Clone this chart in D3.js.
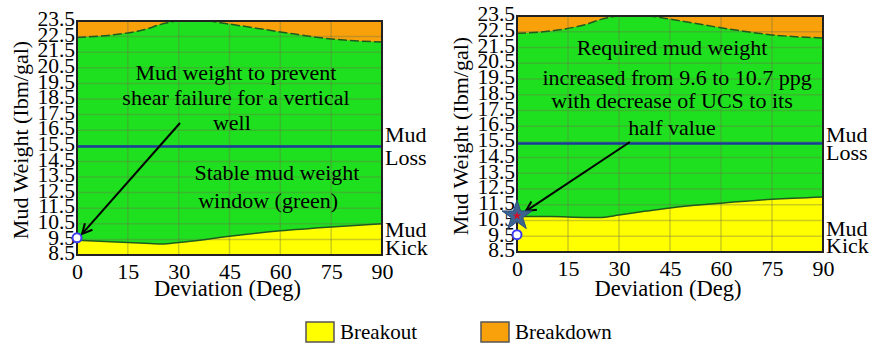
<!DOCTYPE html>
<html>
<head>
<meta charset="utf-8">
<script src="https://cdn.jsdelivr.net/npm/d3@7"></script>
<style>
  body { margin: 0; background: #fff; }
  text { font-family: "Liberation Serif", "Times New Roman", Tinos, serif; }
</style>
</head>
<body>
<svg id="mwplot" width="875" height="348"></svg>
<script>
"use strict";

// Tick labels
const devTicks = [0, 15, 30, 45, 60, 75, 90];
const mwTicks = [8.5, 9.5, 10.5, 11.5, 12.5, 13.5, 14.5, 15.5, 16.5, 17.5, 18.5, 19.5, 20.5, 21.5, 22.5, 23.5];

// Deviation angles where the boundaries were read
const deviation = [0, 10, 20, 25, 30, 38, 45, 60, 75, 90];

// Left panel (original UCS)
const breakoutA  = [9.45, 9.35, 9.25, 9.2, 9.3, 9.5, 9.7, 10.05, 10.3, 10.5];
const breakdownA = [22.45, 22.6, 22.95, 23.3, 23.5, 23.5, 23.3, 22.8, 22.35, 22.15];
const mudLossA = 15.45;

// Right panel (UCS halved)
const breakoutB  = [10.75, 10.75, 10.7, 10.7, 10.85, 11.1, 11.3, 11.6, 11.85, 12.0];
const breakdownB = [22.4, 22.55, 22.95, 23.3, 23.5, 23.5, 23.3, 22.75, 22.3, 22.1];
const mudLossB = 15.4;

// Marked mud weights at vertical well
const vertMW = 9.6;
const reqMW = 10.8;

const legendItems = ["Breakout", "Breakdown"];

const colors = { green: "#1fe01f", yellow: "#ffff00", orange: "#f8a10a", blue: "#1c3a9e" };
const FONT = "Liberation Serif";

const svg = d3.select("#mwplot");

// text with the serif face set right away
const addText = (parent, size) => parent.append("text")
    .attr("font-family", FONT)
    .attr("font-size", size);

const defs = svg.append("defs");
defs.append("marker")
    .attr("id", "arrow")
    .attr("viewBox", "0 0 12 12")
    .attr("refX", 11).attr("refY", 6)
    .attr("markerWidth", 12).attr("markerHeight", 12)
    .attr("markerUnits", "userSpaceOnUse")
    .attr("orient", "auto")
    .append("path")
    .attr("d", "M1,1 L11,6 L1,11")
    .attr("fill", "none")
    .attr("stroke", "#000")
    .attr("stroke-width", 2);

const drawPanel = (p) => {
    const x = d3.scaleLinear().domain([0, 90]).range([p.left, p.right]);
    const y = d3.scaleLinear().domain([8.5, 23.5]).range([p.bottom, p.top]);
    const g = svg.append("g");

    const pts = deviation.map((d, i) => ({ d: d, lo: p.breakout[i], hi: p.breakdown[i] }));

    // stable window background
    g.append("rect")
        .attr("x", x(0)).attr("y", y(23.5))
        .attr("width", x(90) - x(0)).attr("height", y(8.5) - y(23.5))
        .attr("fill", colors.green);

    g.append("path").datum(pts)
        .attr("d", d3.area().curve(d3.curveMonotoneX)
            .x(d => x(d.d)).y0(y(8.5)).y1(d => y(d.lo)))
        .attr("fill", colors.yellow);

    g.append("path").datum(pts)
        .attr("d", d3.area().curve(d3.curveMonotoneX)
            .x(d => x(d.d)).y0(y(23.5)).y1(d => y(d.hi)))
        .attr("fill", colors.orange);

    // grid
    g.selectAll(".hgrid").data(mwTicks.slice(1, -1)).enter().append("line")
        .attr("x1", x(0)).attr("x2", x(90))
        .attr("y1", d => y(d)).attr("y2", d => y(d))
        .attr("stroke", "#6d6d4a").attr("stroke-opacity", 0.35).attr("stroke-width", 1.5);
    g.selectAll(".vgrid").data(devTicks.slice(1, -1)).enter().append("line")
        .attr("y1", y(8.5)).attr("y2", y(23.5))
        .attr("x1", d => x(d)).attr("x2", d => x(d))
        .attr("stroke", "#6d6d4a").attr("stroke-opacity", 0.35).attr("stroke-width", 1.5);

    // boundaries
    g.append("path").datum(pts)
        .attr("d", d3.line().curve(d3.curveMonotoneX).x(d => x(d.d)).y(d => y(d.lo)))
        .attr("fill", "none").attr("stroke", "#1f5a1f").attr("stroke-width", 1.5);
    g.append("path").datum(pts)
        .attr("d", d3.line().curve(d3.curveMonotoneX).x(d => x(d.d)).y(d => y(d.hi)))
        .attr("fill", "none").attr("stroke", "#1f5a1f").attr("stroke-width", 1.5)
        .attr("stroke-dasharray", "9,3");

    // mud loss line
    g.append("line")
        .attr("x1", x(0)).attr("x2", x(90))
        .attr("y1", y(p.mudLoss)).attr("y2", y(p.mudLoss))
        .attr("stroke", colors.blue).attr("stroke-width", 2.5);

    // frame
    g.append("rect")
        .attr("x", x(0)).attr("y", y(23.5))
        .attr("width", x(90) - x(0)).attr("height", y(8.5) - y(23.5))
        .attr("fill", "none").attr("stroke", "#222").attr("stroke-width", 2);

    // axes
    const yAxis = g.append("g")
        .attr("transform", `translate(${p.left},0)`)
        .call(d3.axisLeft(y).tickValues(mwTicks).tickSize(0).tickPadding(2).tickFormat(d3.format(".1f")));
    yAxis.attr("font-family", FONT);
    yAxis.select(".domain").remove();
    yAxis.selectAll("text")
        .attr("font-family", FONT)
        .attr("font-size", 21.5)
        .attr("dy", "0.22em")
        .attr("fill", "#000");

    const xAxis = g.append("g")
        .attr("transform", `translate(0,${p.bottom})`)
        .call(d3.axisBottom(x).tickValues(devTicks).tickSize(0).tickPadding(8));
    xAxis.attr("font-family", FONT);
    xAxis.select(".domain").remove();
    xAxis.selectAll("text")
        .attr("font-family", FONT)
        .attr("font-size", 22)
        .attr("fill", "#000");

    addText(g, 22.5)
        .attr("x", (p.left + p.right) / 2 - 2)
        .attr("y", 296)
        .attr("text-anchor", "middle")
        .text("Deviation (Deg)");

    addText(g, 22)
        .attr("transform", `translate(${p.titleX},${(p.top + p.bottom) / 2 + 2}) rotate(-90)`)
        .attr("text-anchor", "middle")
        .text("Mud Weight (Ibm/gal)");

    // side labels
    const side = (lines, ys) => lines.forEach((t, i) => {
        addText(g, 22)
            .attr("x", p.right + 3).attr("y", ys[i])
            .text(t);
    });
    side(["Mud", "Loss"], p.lossY);
    side(["Mud", "Kick"], p.kickY);

    // notes
    p.notes.forEach(n => {
        addText(g, 22)
            .attr("x", x(n.d)).attr("y", y(n.v))
            .attr("text-anchor", "middle")
            .text(n.t);
    });

    // arrow
    g.append("line")
        .attr("x1", x(p.arrow[0])).attr("y1", y(p.arrow[1]))
        .attr("x2", x(p.arrow[2])).attr("y2", y(p.arrow[3]))
        .attr("stroke", "#000").attr("stroke-width", 2)
        .attr("marker-end", "url(#arrow)");

    // markers at vertical well
    if (p.star) {
        const star = d3.symbol().type(d3.symbolStar);
        g.append("path")
            .attr("d", star.size(280)())
            .attr("transform", `translate(${x(0)},${y(reqMW)})`)
            .attr("fill", "#3d6391").attr("stroke", "#2e4f78").attr("stroke-width", 1);
        g.append("path")
            .attr("d", star.size(24)())
            .attr("transform", `translate(${x(0)},${y(reqMW)})`)
            .attr("fill", "#d0102a");
    }
    g.append("circle")
        .attr("cx", x(0)).attr("cy", y(vertMW)).attr("r", 4.5)
        .attr("fill", "#fff").attr("stroke", "#3b3bf0").attr("stroke-width", 2);
};

drawPanel({
    left: 77, right: 382, top: 21, bottom: 255, titleX: 28,
    breakout: breakoutA, breakdown: breakdownA, mudLoss: mudLossA,
    lossY: [142, 165], kickY: [237, 255],
    notes: [
        { t: "Mud weight to prevent", d: 46.9, v: 19.72 },
        { t: "shear failure for a vertical", d: 46.9, v: 18.12 },
        { t: "well", d: 45.7, v: 16.51 },
        { t: "Stable mud weight", d: 59, v: 13.31 },
        { t: "window (green)", d: 56.4, v: 11.51 }
    ],
    arrow: [30.4, 16.96, 1.5, 9.85],
    star: false
});

drawPanel({
    left: 517, right: 823, top: 16, bottom: 252, titleX: 468,
    breakout: breakoutB, breakdown: breakdownB, mudLoss: mudLossB,
    lossY: [142, 160], kickY: [236, 253],
    notes: [
        { t: "Required mud weight", d: 45.6, v: 21.02 },
        { t: "increased from 9.6 to 10.7 ppg", d: 47.1, v: 19.11 },
        { t: "with decrease of UCS to its", d: 45.6, v: 17.65 },
        { t: "half value", d: 45.6, v: 15.93 }
    ],
    arrow: [33.2, 15.49, 2.6, 11.1],
    star: true
});

// legend
const legend = svg.append("g");
const legendColors = [colors.yellow, colors.orange];
const legendX = [306, 481];
legendItems.forEach((name, i) => {
    legend.append("rect")
        .attr("x", legendX[i]).attr("y", 322)
        .attr("width", 28).attr("height", 20)
        .attr("fill", legendColors[i])
        .attr("stroke", "#555").attr("stroke-width", 1.5);
    addText(legend, 21)
        .attr("x", legendX[i] + 34).attr("y", 339)
        .text(name);
});
</script>
</body>
</html>
